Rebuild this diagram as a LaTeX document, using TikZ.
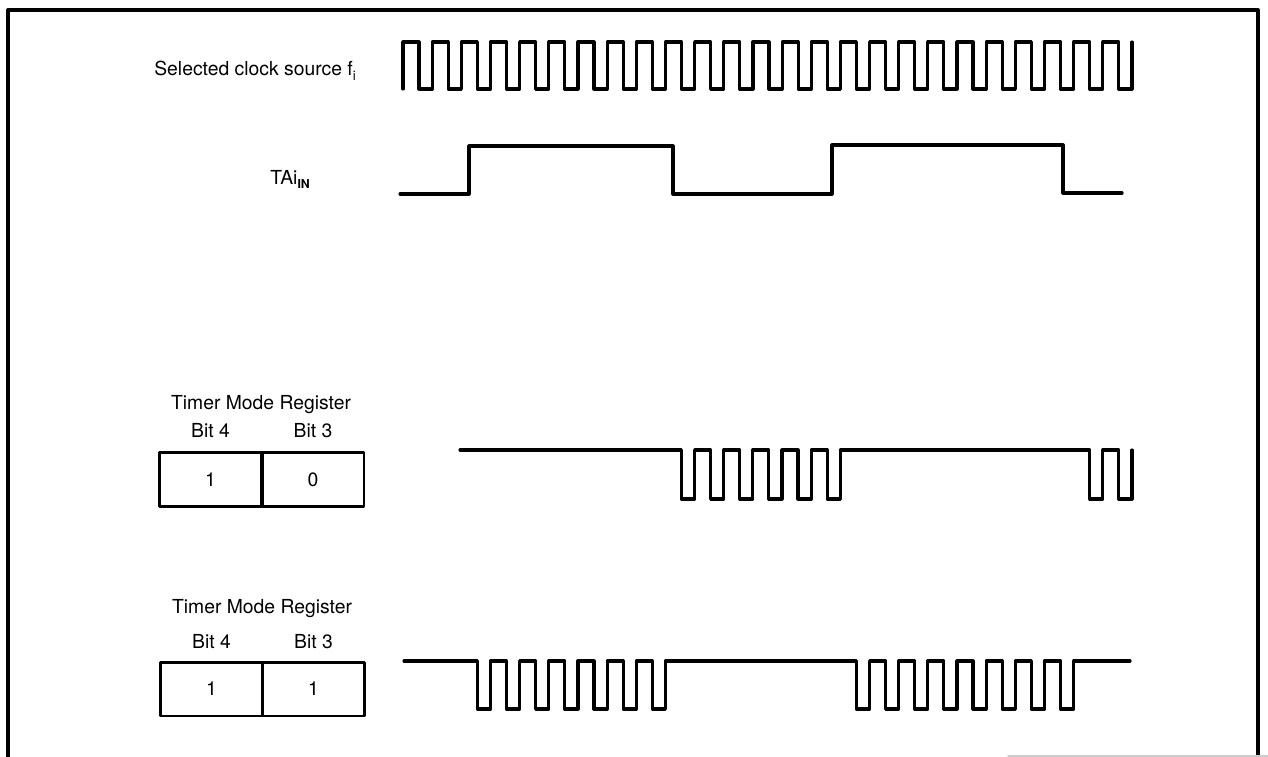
\documentclass[tikz,border=0pt]{standalone}
\usepackage{fontspec}
\setmainfont{TeX Gyre Heros}
\tikzset{
  wave/.style={line width=1.8pt, line cap=round, line join=round},
  frame/.style={line width=2.3pt},
  regcell/.style={draw, line width=1.7pt, outer sep=0pt, inner sep=0pt, minimum width=2.04cm, minimum height=1.08cm},
  lbl/.style={font=\fontsize{11}{13}\selectfont, inner sep=0pt}
}
\begin{document}
\begin{tikzpicture}[line cap=round,line join=round,x=0.02cm,y=-0.02cm]
			\useasboundingbox (0,0) rectangle (1268,757);
			\draw [frame] (8,757)-- (8,10)-- (1258,10)-- (1258,757);
			\draw [line width=0.8pt,gray!40] (1008,756)-- (1268,756);
			% clock source
			\draw [wave] (403,89) \foreach \k in {1,...,25} { -- ++(0,-47) -- ++(16,0) -- ++(0,47) -- ++(13.16,0) } -- ++(0,-47);
			% TAi in
			\draw [wave] (400,194)-- (469,194)-- (469,146)-- (673,146)-- (673,194)-- (832,194)-- (832,145)-- (1063,145)-- (1063,193)-- (1122,193);
			% bit4 = 1, bit3 = 0
			\draw [wave] (460,450)-- (681.4,450)-- ++(0,49) \foreach \k in {1,...,5} { -- ++(13.16,0) -- ++(0,-49) -- ++(16,0) -- ++(0,49) } -- ++(13.16,0)-- ++(0,-49)
				-- (1089.7,450)-- ++(0,49)-- ++(13.16,0)-- ++(0,-49)-- ++(16,0)-- ++(0,49)-- ++(13.16,0)-- ++(0,-49);
			% bit4 = 1, bit3 = 1
			\draw [wave] (404,661)-- (477.3,661)-- ++(0,48) \foreach \k in {1,...,6} { -- ++(13.16,0) -- ++(0,-48) -- ++(16,0) -- ++(0,48) } -- ++(13.16,0)-- ++(0,-48)
				-- (856.4,661)-- ++(0,48) \foreach \k in {1,...,7} { -- ++(13.16,0) -- ++(0,-48) -- ++(16,0) -- ++(0,48) } -- ++(13.16,0)-- ++(0,-48)-- (1130,661);
			\node [lbl,anchor=base west] (clk) at (154,76) {Selected clock source f\raisebox{-0.45ex}{\fontsize{7.5}{8}\selectfont i}};
			\node [lbl,anchor=base west] (tain) at (270,184) {TAi\raisebox{-0.4ex}{\fontsize{7}{8}\selectfont\bfseries IN}};
			% register 10
			\node [lbl,anchor=base] (tmra) at (261,409) {Timer Mode Register};
			\node [lbl,anchor=base] (bfoura) at (210.5,437) {Bit 4};
			\node [lbl,anchor=base] (bthreea) at (313,437) {Bit 3};
			\node [regcell,lbl] (cfoura) at (210.5,479.5) {1};
			\node [regcell,lbl] (cthreea) at (313,479.5) {0};
			% register 11
			\node [lbl,anchor=base] (tmrb) at (262,613) {Timer Mode Register};
			\node [lbl,anchor=base] (bfourb) at (211.5,648) {Bit 4};
			\node [lbl,anchor=base] (bthreeb) at (313.5,648) {Bit 3};
			\node [regcell,lbl] (cfourb) at (211.5,689) {1};
			\node [regcell,lbl] (cthreeb) at (313.5,689) {1};
			\end{tikzpicture}
\end{document}
